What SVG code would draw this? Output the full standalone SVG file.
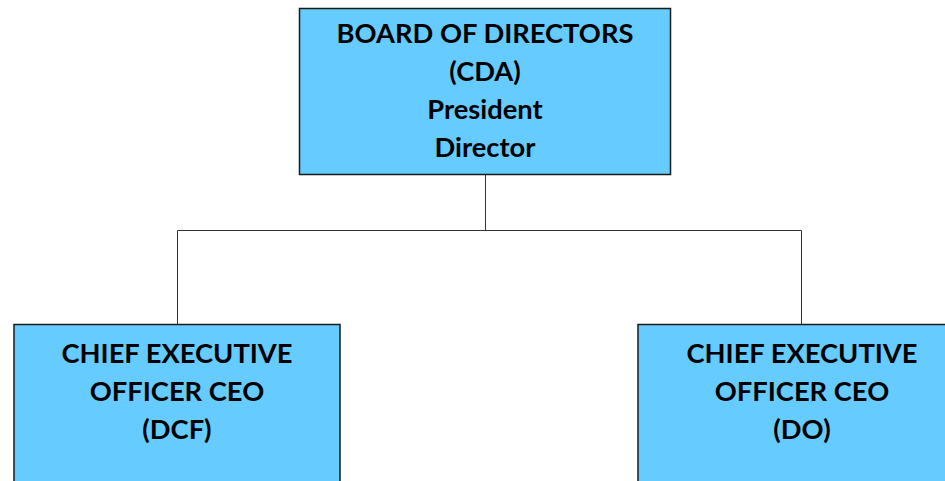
<svg xmlns="http://www.w3.org/2000/svg" width="945" height="481" viewBox="0 0 945 481">
<style>
.box{fill:#66CCFF;stroke:#1a1a1a;stroke-width:1.5}
.lbl{font-family:Lato,"Liberation Sans",sans-serif;font-weight:bold;font-size:27.3px;fill:#000;text-anchor:middle}
.conn{fill:none;stroke:#333;stroke-width:1}
</style>
<rect width="945" height="481" fill="#fff"/>
<g id="connectors">
<path class="conn" d="M485.5 174V230.5M177.5 230.5H801.5M177.5 230.5V324.5M801.5 230.5V324.5"/>
</g>
<g id="board">
<rect class="box" x="299.5" y="8.5" width="371" height="166"/>
<text class="lbl" x="485" y="43">BOARD OF DIRECTORS</text>
<text class="lbl" x="485" y="81">(CDA)</text>
<text class="lbl" x="485" y="119">President</text>
<text class="lbl" x="485" y="157">Director</text>
</g>
<g id="ceo-dcf">
<rect class="box" x="14" y="324.5" width="326" height="170"/>
<text class="lbl" x="177" y="363">CHIEF EXECUTIVE</text>
<text class="lbl" x="177" y="401">OFFICER CEO</text>
<text class="lbl" x="177" y="439">(DCF)</text>
</g>
<g id="ceo-do">
<rect class="box" x="638" y="324.5" width="320" height="170"/>
<text class="lbl" x="802" y="363">CHIEF EXECUTIVE</text>
<text class="lbl" x="802" y="401">OFFICER CEO</text>
<text class="lbl" x="802" y="439">(DO)</text>
</g>
</svg>
